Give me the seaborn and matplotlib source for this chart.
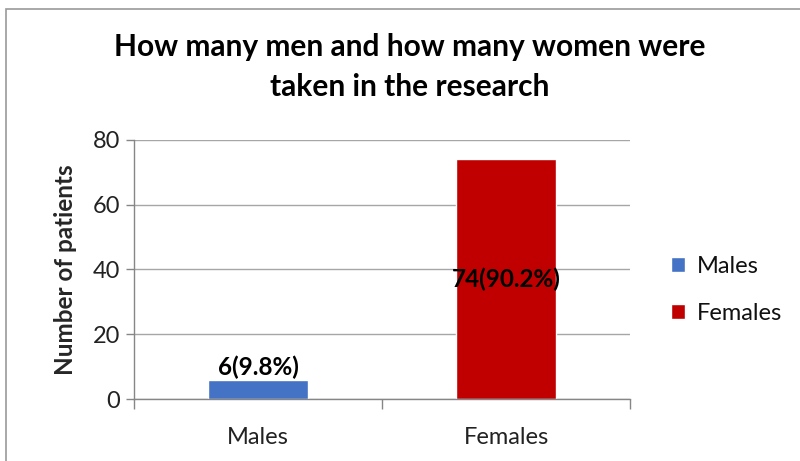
import seaborn as sns
import matplotlib.pyplot as plt
import pandas as pd
from matplotlib.patches import Rectangle

categories = ["Males", "Females"]
patients = [6, 74]
bar_labels = ["6(9.8%)", "74(90.2%)"]
colors = ["#4472C4", "#C00000"]

df = pd.DataFrame({"group": categories, "patients": patients})

sns.set_theme(style="white")
plt.rcParams['font.family'] = ['Lato', 'DejaVu Sans']
plt.rcParams['text.color'] = '#111111'
plt.rcParams['xtick.color'] = '#222222'
plt.rcParams['ytick.color'] = '#222222'

fig = plt.figure(figsize=(8, 4.61), dpi=100)
ax = fig.add_axes([134 / 800, 1 - 399 / 461, 496 / 800, 259 / 461])

sns.barplot(data=df, x="group", y="patients", hue="group", palette=colors,
            width=0.4, dodge=False, legend=True, ax=ax, saturation=1)

ax.set_ylim(0, 80)
ax.set_yticks([0, 20, 40, 60, 80])
ax.set_xlim(-0.5, 1.5)
ax.yaxis.grid(True, color="#a6a6a6", linewidth=1)
ax.set_axisbelow(True)
for s in ["top", "right"]:
    ax.spines[s].set_visible(False)
for s in ["left", "bottom"]:
    ax.spines[s].set_color("#868686")
    ax.spines[s].set_linewidth(1)

ax.tick_params(axis="y", length=6, width=1, color="#868686", labelsize=17,
               left=True, pad=4)
ax.tick_params(axis="x", which="major", length=0, labelsize=17, pad=20)
ax.set_xticks([-0.5, 0.5, 1.5], minor=True)
ax.tick_params(axis="x", which="minor", length=7, width=1, color="#868686", bottom=True)

ax.set_xlabel("")
ax.set_ylabel("Number of patients", fontsize=17.5, fontweight="bold", labelpad=11)

# value labels
ax.text(0, patients[0] + 0.3, bar_labels[0], ha="center", va="bottom",
        fontsize=17.5, fontweight="bold", color="black")
ax.text(1, patients[1] / 2, bar_labels[1], ha="center", va="center",
        fontsize=17.5, fontweight="bold", color="black")

fig.suptitle("How many men and how many women were\ntaken in the research",
             x=410 / 800, y=1 - 33 / 461, fontsize=21.5, fontweight="bold",
             linespacing=1.5, color="black")

leg = ax.legend(loc="center left", bbox_to_anchor=(1.04, 0.42), frameon=False,
                fontsize=17, handlelength=0.6, handleheight=0.6,
                handletextpad=0.5, labelspacing=1.1)

fig.patches.append(Rectangle((6 / 800, -0.1), 1.2, 1 - 9 / 461 + 0.1,
                             transform=fig.transFigure, fill=False,
                             edgecolor="#9a9a9a", linewidth=1.2))

fig.savefig("out.png", dpi=100)
